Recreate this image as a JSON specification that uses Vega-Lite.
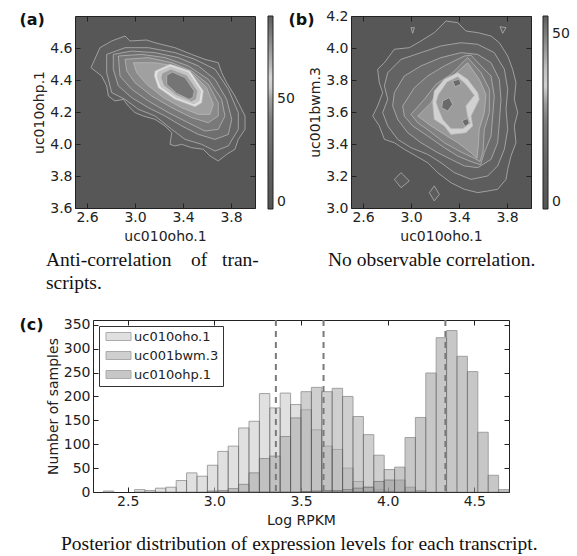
{
"$schema": "https://vega.github.io/schema/vega-lite/v6.json",
"padding": {"left": 18, "top": 8, "right": 2, "bottom": 2},
"background": "white",
"datasets": {
"pa": [
{"p":"a01","v":15,"x":2.633,"y":4.477},{"p":"a01","v":15,"x":2.708,"y":4.602},{"p":"a01","v":15,"x":2.806,"y":4.644},{"p":"a01","v":15,"x":2.917,"y":4.675},{"p":"a01","v":15,"x":2.958,"y":4.644},{"p":"a01","v":15,"x":3.097,"y":4.65},{"p":"a01","v":15,"x":3.167,"y":4.633},{"p":"a01","v":15,"x":3.333,"y":4.602},{"p":"a01","v":15,"x":3.472,"y":4.56},{"p":"a01","v":15,"x":3.583,"y":4.529},{"p":"a01","v":15,"x":3.694,"y":4.508},{"p":"a01","v":15,"x":3.722,"y":4.446},{"p":"a01","v":15,"x":3.764,"y":4.383},{"p":"a01","v":15,"x":3.833,"y":4.3},{"p":"a01","v":15,"x":3.861,"y":4.258},{"p":"a01","v":15,"x":3.917,"y":4.175},{"p":"a01","v":15,"x":3.917,"y":4.092},{"p":"a01","v":15,"x":3.861,"y":4.029},{"p":"a01","v":15,"x":3.833,"y":3.967},{"p":"a01","v":15,"x":3.764,"y":3.935},{"p":"a01","v":15,"x":3.694,"y":3.894},{"p":"a01","v":15,"x":3.625,"y":3.925},{"p":"a01","v":15,"x":3.569,"y":3.967},{"p":"a01","v":15,"x":3.472,"y":3.977},{"p":"a01","v":15,"x":3.389,"y":3.998},{"p":"a01","v":15,"x":3.333,"y":3.988},{"p":"a01","v":15,"x":3.292,"y":3.998},{"p":"a01","v":15,"x":3.306,"y":4.071},{"p":"a01","v":15,"x":3.25,"y":4.113},{"p":"a01","v":15,"x":3.167,"y":4.154},{"p":"a01","v":15,"x":3.069,"y":4.175},{"p":"a01","v":15,"x":3.0,"y":4.196},{"p":"a01","v":15,"x":2.944,"y":4.238},{"p":"a01","v":15,"x":2.903,"y":4.279},{"p":"a01","v":15,"x":2.833,"y":4.269},{"p":"a01","v":15,"x":2.778,"y":4.3},{"p":"a01","v":15,"x":2.764,"y":4.363},{"p":"a01","v":15,"x":2.722,"y":4.425},
{"p":"a02","v":22,"x":2.764,"y":4.56},{"p":"a02","v":22,"x":2.917,"y":4.602},{"p":"a02","v":22,"x":3.111,"y":4.602},{"p":"a02","v":22,"x":3.333,"y":4.571},{"p":"a02","v":22,"x":3.5,"y":4.529},{"p":"a02","v":22,"x":3.667,"y":4.467},{"p":"a02","v":22,"x":3.778,"y":4.342},{"p":"a02","v":22,"x":3.861,"y":4.196},{"p":"a02","v":22,"x":3.861,"y":4.092},{"p":"a02","v":22,"x":3.778,"y":3.988},{"p":"a02","v":22,"x":3.667,"y":3.956},{"p":"a02","v":22,"x":3.556,"y":3.998},{"p":"a02","v":22,"x":3.417,"y":4.029},{"p":"a02","v":22,"x":3.306,"y":4.092},{"p":"a02","v":22,"x":3.167,"y":4.175},{"p":"a02","v":22,"x":3.028,"y":4.217},{"p":"a02","v":22,"x":2.917,"y":4.279},{"p":"a02","v":22,"x":2.806,"y":4.321},{"p":"a02","v":22,"x":2.764,"y":4.446},
{"p":"a03","v":30,"x":2.819,"y":4.56},{"p":"a03","v":30,"x":2.972,"y":4.581},{"p":"a03","v":30,"x":3.167,"y":4.571},{"p":"a03","v":30,"x":3.361,"y":4.54},{"p":"a03","v":30,"x":3.528,"y":4.488},{"p":"a03","v":30,"x":3.667,"y":4.404},{"p":"a03","v":30,"x":3.764,"y":4.279},{"p":"a03","v":30,"x":3.806,"y":4.154},{"p":"a03","v":30,"x":3.778,"y":4.06},{"p":"a03","v":30,"x":3.667,"y":4.029},{"p":"a03","v":30,"x":3.528,"y":4.06},{"p":"a03","v":30,"x":3.389,"y":4.113},{"p":"a03","v":30,"x":3.25,"y":4.175},{"p":"a03","v":30,"x":3.111,"y":4.227},{"p":"a03","v":30,"x":2.972,"y":4.29},{"p":"a03","v":30,"x":2.861,"y":4.363},{"p":"a03","v":30,"x":2.819,"y":4.467},
{"p":"a04","v":38,"x":2.861,"y":4.55},{"p":"a04","v":38,"x":3.056,"y":4.56},{"p":"a04","v":38,"x":3.25,"y":4.54},{"p":"a04","v":38,"x":3.444,"y":4.488},{"p":"a04","v":38,"x":3.611,"y":4.404},{"p":"a04","v":38,"x":3.722,"y":4.279},{"p":"a04","v":38,"x":3.75,"y":4.175},{"p":"a04","v":38,"x":3.694,"y":4.092},{"p":"a04","v":38,"x":3.583,"y":4.081},{"p":"a04","v":38,"x":3.444,"y":4.133},{"p":"a04","v":38,"x":3.278,"y":4.196},{"p":"a04","v":38,"x":3.111,"y":4.269},{"p":"a04","v":38,"x":2.972,"y":4.342},{"p":"a04","v":38,"x":2.875,"y":4.425},
{"p":"a05","v":44,"x":2.917,"y":4.529},{"p":"a05","v":44,"x":3.111,"y":4.54},{"p":"a05","v":44,"x":3.306,"y":4.508},{"p":"a05","v":44,"x":3.472,"y":4.456},{"p":"a05","v":44,"x":3.611,"y":4.373},{"p":"a05","v":44,"x":3.694,"y":4.258},{"p":"a05","v":44,"x":3.694,"y":4.175},{"p":"a05","v":44,"x":3.611,"y":4.133},{"p":"a05","v":44,"x":3.472,"y":4.165},{"p":"a05","v":44,"x":3.306,"y":4.227},{"p":"a05","v":44,"x":3.139,"y":4.3},{"p":"a05","v":44,"x":3.0,"y":4.383},{"p":"a05","v":44,"x":2.931,"y":4.456},
{"p":"a06","v":50,"x":2.986,"y":4.508},{"p":"a06","v":50,"x":3.167,"y":4.508},{"p":"a06","v":50,"x":3.333,"y":4.488},{"p":"a06","v":50,"x":3.486,"y":4.435},{"p":"a06","v":50,"x":3.597,"y":4.352},{"p":"a06","v":50,"x":3.653,"y":4.248},{"p":"a06","v":50,"x":3.625,"y":4.185},{"p":"a06","v":50,"x":3.528,"y":4.185},{"p":"a06","v":50,"x":3.389,"y":4.227},{"p":"a06","v":50,"x":3.236,"y":4.29},{"p":"a06","v":50,"x":3.097,"y":4.373},{"p":"a06","v":50,"x":3.014,"y":4.446},
{"p":"a07","v":58,"x":3.167,"y":4.456},{"p":"a07","v":58,"x":3.292,"y":4.498},{"p":"a07","v":58,"x":3.458,"y":4.456},{"p":"a07","v":58,"x":3.569,"y":4.331},{"p":"a07","v":58,"x":3.556,"y":4.258},{"p":"a07","v":58,"x":3.5,"y":4.233},{"p":"a07","v":58,"x":3.333,"y":4.279},{"p":"a07","v":58,"x":3.194,"y":4.352},{"p":"a07","v":58,"x":3.161,"y":4.425},
{"p":"a08","v":63,"x":3.194,"y":4.45},{"p":"a08","v":63,"x":3.292,"y":4.483},{"p":"a08","v":63,"x":3.444,"y":4.446},{"p":"a08","v":63,"x":3.547,"y":4.331},{"p":"a08","v":63,"x":3.533,"y":4.269},{"p":"a08","v":63,"x":3.492,"y":4.25},{"p":"a08","v":63,"x":3.342,"y":4.292},{"p":"a08","v":63,"x":3.217,"y":4.358},{"p":"a08","v":63,"x":3.186,"y":4.421},
{"p":"a09","v":72,"x":3.228,"y":4.442},{"p":"a09","v":72,"x":3.3,"y":4.467},{"p":"a09","v":72,"x":3.431,"y":4.429},{"p":"a09","v":72,"x":3.522,"y":4.331},{"p":"a09","v":72,"x":3.508,"y":4.279},{"p":"a09","v":72,"x":3.472,"y":4.265},{"p":"a09","v":72,"x":3.347,"y":4.304},{"p":"a09","v":72,"x":3.239,"y":4.367},{"p":"a09","v":72,"x":3.217,"y":4.415},
{"p":"a10","v":82,"x":3.264,"y":4.429},{"p":"a10","v":82,"x":3.311,"y":4.45},{"p":"a10","v":82,"x":3.417,"y":4.415},{"p":"a10","v":82,"x":3.494,"y":4.331},{"p":"a10","v":82,"x":3.483,"y":4.29},{"p":"a10","v":82,"x":3.45,"y":4.279},{"p":"a10","v":82,"x":3.347,"y":4.317},{"p":"a10","v":82,"x":3.264,"y":4.373}
],
"pb": [
{"p":"b01","v":8,"x":2.778,"y":3.908},{"p":"b01","v":8,"x":2.861,"y":3.992},{"p":"b01","v":8,"x":2.986,"y":4.002},{"p":"b01","v":8,"x":3.083,"y":4.044},{"p":"b01","v":8,"x":3.194,"y":4.096},{"p":"b01","v":8,"x":3.292,"y":4.169},{"p":"b01","v":8,"x":3.389,"y":4.158},{"p":"b01","v":8,"x":3.458,"y":4.106},{"p":"b01","v":8,"x":3.556,"y":4.096},{"p":"b01","v":8,"x":3.667,"y":4.075},{"p":"b01","v":8,"x":3.736,"y":4.033},{"p":"b01","v":8,"x":3.806,"y":3.95},{"p":"b01","v":8,"x":3.847,"y":3.867},{"p":"b01","v":8,"x":3.875,"y":3.783},{"p":"b01","v":8,"x":3.861,"y":3.679},{"p":"b01","v":8,"x":3.889,"y":3.596},{"p":"b01","v":8,"x":3.861,"y":3.513},{"p":"b01","v":8,"x":3.875,"y":3.408},{"p":"b01","v":8,"x":3.833,"y":3.325},{"p":"b01","v":8,"x":3.806,"y":3.242},{"p":"b01","v":8,"x":3.792,"y":3.179},{"p":"b01","v":8,"x":3.722,"y":3.117},{"p":"b01","v":8,"x":3.639,"y":3.106},{"p":"b01","v":8,"x":3.556,"y":3.096},{"p":"b01","v":8,"x":3.444,"y":3.117},{"p":"b01","v":8,"x":3.333,"y":3.158},{"p":"b01","v":8,"x":3.222,"y":3.221},{"p":"b01","v":8,"x":3.139,"y":3.283},{"p":"b01","v":8,"x":3.042,"y":3.325},{"p":"b01","v":8,"x":2.944,"y":3.367},{"p":"b01","v":8,"x":2.861,"y":3.408},{"p":"b01","v":8,"x":2.778,"y":3.429},{"p":"b01","v":8,"x":2.736,"y":3.513},{"p":"b01","v":8,"x":2.681,"y":3.575},{"p":"b01","v":8,"x":2.722,"y":3.638},{"p":"b01","v":8,"x":2.764,"y":3.721},{"p":"b01","v":8,"x":2.736,"y":3.783},{"p":"b01","v":8,"x":2.722,"y":3.867},
{"p":"b02","v":8,"x":2.861,"y":3.179},{"p":"b02","v":8,"x":2.917,"y":3.221},{"p":"b02","v":8,"x":2.986,"y":3.169},{"p":"b02","v":8,"x":2.917,"y":3.127},
{"p":"b03","v":8,"x":3.153,"y":3.096},{"p":"b03","v":8,"x":3.194,"y":3.138},{"p":"b03","v":8,"x":3.236,"y":3.085},{"p":"b03","v":8,"x":3.194,"y":3.044},
{"p":"b04","v":8,"x":3.0,"y":4.127},{"p":"b04","v":8,"x":3.028,"y":4.127},{"p":"b04","v":8,"x":3.014,"y":4.092},
{"p":"b05","v":8,"x":3.742,"y":4.133},{"p":"b05","v":8,"x":3.792,"y":4.127},{"p":"b05","v":8,"x":3.764,"y":4.092},
{"p":"b06","v":13,"x":2.806,"y":3.846},{"p":"b06","v":13,"x":2.917,"y":3.929},{"p":"b06","v":13,"x":3.083,"y":3.971},{"p":"b06","v":13,"x":3.25,"y":4.013},{"p":"b06","v":13,"x":3.417,"y":4.033},{"p":"b06","v":13,"x":3.556,"y":4.023},{"p":"b06","v":13,"x":3.694,"y":3.971},{"p":"b06","v":13,"x":3.778,"y":3.867},{"p":"b06","v":13,"x":3.806,"y":3.742},{"p":"b06","v":13,"x":3.792,"y":3.617},{"p":"b06","v":13,"x":3.806,"y":3.492},{"p":"b06","v":13,"x":3.778,"y":3.367},{"p":"b06","v":13,"x":3.722,"y":3.263},{"p":"b06","v":13,"x":3.639,"y":3.2},{"p":"b06","v":13,"x":3.5,"y":3.179},{"p":"b06","v":13,"x":3.361,"y":3.221},{"p":"b06","v":13,"x":3.25,"y":3.283},{"p":"b06","v":13,"x":3.139,"y":3.335},{"p":"b06","v":13,"x":3.0,"y":3.377},{"p":"b06","v":13,"x":2.889,"y":3.429},{"p":"b06","v":13,"x":2.806,"y":3.513},{"p":"b06","v":13,"x":2.764,"y":3.596},{"p":"b06","v":13,"x":2.806,"y":3.679},{"p":"b06","v":13,"x":2.778,"y":3.763},
{"p":"b07","v":18,"x":2.861,"y":3.721},{"p":"b07","v":18,"x":2.944,"y":3.825},{"p":"b07","v":18,"x":3.083,"y":3.888},{"p":"b07","v":18,"x":3.25,"y":3.94},{"p":"b07","v":18,"x":3.417,"y":3.971},{"p":"b07","v":18,"x":3.556,"y":3.96},{"p":"b07","v":18,"x":3.667,"y":3.908},{"p":"b07","v":18,"x":3.736,"y":3.804},{"p":"b07","v":18,"x":3.75,"y":3.679},{"p":"b07","v":18,"x":3.736,"y":3.533},{"p":"b07","v":18,"x":3.722,"y":3.408},{"p":"b07","v":18,"x":3.667,"y":3.304},{"p":"b07","v":18,"x":3.556,"y":3.252},{"p":"b07","v":18,"x":3.444,"y":3.263},{"p":"b07","v":18,"x":3.333,"y":3.304},{"p":"b07","v":18,"x":3.222,"y":3.346},{"p":"b07","v":18,"x":3.083,"y":3.408},{"p":"b07","v":18,"x":2.972,"y":3.471},{"p":"b07","v":18,"x":2.889,"y":3.554},{"p":"b07","v":18,"x":2.847,"y":3.638},
{"p":"b08","v":22,"x":2.931,"y":3.638},{"p":"b08","v":22,"x":3.028,"y":3.752},{"p":"b08","v":22,"x":3.139,"y":3.825},{"p":"b08","v":22,"x":3.278,"y":3.888},{"p":"b08","v":22,"x":3.444,"y":3.95},{"p":"b08","v":22,"x":3.5,"y":3.955},{"p":"b08","v":22,"x":3.569,"y":3.9},{"p":"b08","v":22,"x":3.667,"y":3.825},{"p":"b08","v":22,"x":3.694,"y":3.7},{"p":"b08","v":22,"x":3.681,"y":3.575},{"p":"b08","v":22,"x":3.667,"y":3.45},{"p":"b08","v":22,"x":3.611,"y":3.346},{"p":"b08","v":22,"x":3.58,"y":3.27},{"p":"b08","v":22,"x":3.5,"y":3.29},{"p":"b08","v":22,"x":3.389,"y":3.325},{"p":"b08","v":22,"x":3.278,"y":3.377},{"p":"b08","v":22,"x":3.139,"y":3.45},{"p":"b08","v":22,"x":3.014,"y":3.513},{"p":"b08","v":22,"x":2.944,"y":3.575},
{"p":"b09","v":26,"x":3.0,"y":3.585},{"p":"b09","v":26,"x":3.111,"y":3.679},{"p":"b09","v":26,"x":3.208,"y":3.773},{"p":"b09","v":26,"x":3.333,"y":3.835},{"p":"b09","v":26,"x":3.472,"y":3.94},{"p":"b09","v":26,"x":3.583,"y":3.846},{"p":"b09","v":26,"x":3.653,"y":3.742},{"p":"b09","v":26,"x":3.653,"y":3.596},{"p":"b09","v":26,"x":3.611,"y":3.492},{"p":"b09","v":26,"x":3.6,"y":3.35},{"p":"b09","v":26,"x":3.575,"y":3.29},{"p":"b09","v":26,"x":3.53,"y":3.31},{"p":"b09","v":26,"x":3.417,"y":3.35},{"p":"b09","v":26,"x":3.278,"y":3.408},{"p":"b09","v":26,"x":3.153,"y":3.481},{"p":"b09","v":26,"x":3.056,"y":3.533},
{"p":"b10","v":30,"x":3.056,"y":3.575},{"p":"b10","v":30,"x":3.167,"y":3.658},{"p":"b10","v":30,"x":3.236,"y":3.752},{"p":"b10","v":30,"x":3.333,"y":3.815},{"p":"b10","v":30,"x":3.472,"y":3.908},{"p":"b10","v":30,"x":3.569,"y":3.804},{"p":"b10","v":30,"x":3.625,"y":3.71},{"p":"b10","v":30,"x":3.611,"y":3.596},{"p":"b10","v":30,"x":3.569,"y":3.492},{"p":"b10","v":30,"x":3.56,"y":3.38},{"p":"b10","v":30,"x":3.55,"y":3.31},{"p":"b10","v":30,"x":3.5,"y":3.345},{"p":"b10","v":30,"x":3.389,"y":3.408},{"p":"b10","v":30,"x":3.278,"y":3.46},{"p":"b10","v":30,"x":3.167,"y":3.513},
{"p":"b11","v":35,"x":3.194,"y":3.731},{"p":"b11","v":35,"x":3.278,"y":3.804},{"p":"b11","v":35,"x":3.389,"y":3.846},{"p":"b11","v":35,"x":3.472,"y":3.804},{"p":"b11","v":35,"x":3.556,"y":3.721},{"p":"b11","v":35,"x":3.569,"y":3.679},{"p":"b11","v":35,"x":3.5,"y":3.575},{"p":"b11","v":35,"x":3.514,"y":3.513},{"p":"b11","v":35,"x":3.458,"y":3.471},{"p":"b11","v":35,"x":3.333,"y":3.46},{"p":"b11","v":35,"x":3.278,"y":3.513},{"p":"b11","v":35,"x":3.194,"y":3.554},{"p":"b11","v":35,"x":3.181,"y":3.658},
{"p":"b12","v":45,"x":3.228,"y":3.71},{"p":"b12","v":45,"x":3.3,"y":3.788},{"p":"b12","v":45,"x":3.389,"y":3.821},{"p":"b12","v":45,"x":3.458,"y":3.773},{"p":"b12","v":45,"x":3.528,"y":3.704},{"p":"b12","v":45,"x":3.458,"y":3.638},{"p":"b12","v":45,"x":3.472,"y":3.575},{"p":"b12","v":45,"x":3.494,"y":3.529},{"p":"b12","v":45,"x":3.431,"y":3.496},{"p":"b12","v":45,"x":3.333,"y":3.496},{"p":"b12","v":45,"x":3.267,"y":3.55},{"p":"b12","v":45,"x":3.228,"y":3.617},{"p":"b12","v":45,"x":3.208,"y":3.663},
{"p":"b13","v":53,"x":3.264,"y":3.669},{"p":"b13","v":53,"x":3.319,"y":3.69},{"p":"b13","v":53,"x":3.347,"y":3.648},{"p":"b13","v":53,"x":3.306,"y":3.606},{"p":"b13","v":53,"x":3.256,"y":3.627},
{"p":"b14","v":53,"x":3.425,"y":3.545},{"p":"b14","v":53,"x":3.47,"y":3.56},{"p":"b14","v":53,"x":3.485,"y":3.53},{"p":"b14","v":53,"x":3.45,"y":3.51},
{"p":"b15","v":53,"x":3.347,"y":3.794},{"p":"b15","v":53,"x":3.403,"y":3.804},{"p":"b15","v":53,"x":3.417,"y":3.773},{"p":"b15","v":53,"x":3.367,"y":3.758}
],
"h": [
{"s":"uc010oho.1","x0":2.36,"x1":2.42,"n":2},{"s":"uc010oho.1","x0":2.54,"x1":2.60,"n":5},{"s":"uc010oho.1","x0":2.60,"x1":2.66,"n":3},{"s":"uc010oho.1","x0":2.66,"x1":2.72,"n":8},{"s":"uc010oho.1","x0":2.72,"x1":2.78,"n":10},{"s":"uc010oho.1","x0":2.78,"x1":2.84,"n":24},{"s":"uc010oho.1","x0":2.84,"x1":2.90,"n":40},{"s":"uc010oho.1","x0":2.90,"x1":2.96,"n":33},{"s":"uc010oho.1","x0":2.96,"x1":3.02,"n":56},{"s":"uc010oho.1","x0":3.02,"x1":3.08,"n":85},{"s":"uc010oho.1","x0":3.08,"x1":3.14,"n":96},{"s":"uc010oho.1","x0":3.14,"x1":3.20,"n":134},{"s":"uc010oho.1","x0":3.20,"x1":3.26,"n":148},{"s":"uc010oho.1","x0":3.26,"x1":3.32,"n":206},{"s":"uc010oho.1","x0":3.32,"x1":3.38,"n":176},{"s":"uc010oho.1","x0":3.38,"x1":3.44,"n":207},{"s":"uc010oho.1","x0":3.44,"x1":3.50,"n":183},{"s":"uc010oho.1","x0":3.50,"x1":3.56,"n":172},{"s":"uc010oho.1","x0":3.56,"x1":3.62,"n":130},{"s":"uc010oho.1","x0":3.62,"x1":3.68,"n":96},{"s":"uc010oho.1","x0":3.68,"x1":3.74,"n":89},{"s":"uc010oho.1","x0":3.74,"x1":3.80,"n":50},{"s":"uc010oho.1","x0":3.80,"x1":3.86,"n":22},{"s":"uc010oho.1","x0":3.86,"x1":3.92,"n":10},{"s":"uc010oho.1","x0":3.92,"x1":3.98,"n":5},{"s":"uc010oho.1","x0":3.98,"x1":4.04,"n":2},
{"s":"uc001bwm.3","x0":2.96,"x1":3.02,"n":2},{"s":"uc001bwm.3","x0":3.02,"x1":3.08,"n":3},{"s":"uc001bwm.3","x0":3.08,"x1":3.14,"n":7},{"s":"uc001bwm.3","x0":3.14,"x1":3.20,"n":16},{"s":"uc001bwm.3","x0":3.20,"x1":3.26,"n":40},{"s":"uc001bwm.3","x0":3.26,"x1":3.32,"n":70},{"s":"uc001bwm.3","x0":3.32,"x1":3.38,"n":75},{"s":"uc001bwm.3","x0":3.38,"x1":3.44,"n":116},{"s":"uc001bwm.3","x0":3.44,"x1":3.50,"n":155},{"s":"uc001bwm.3","x0":3.50,"x1":3.56,"n":210},{"s":"uc001bwm.3","x0":3.56,"x1":3.62,"n":219},{"s":"uc001bwm.3","x0":3.62,"x1":3.68,"n":210},{"s":"uc001bwm.3","x0":3.68,"x1":3.74,"n":217},{"s":"uc001bwm.3","x0":3.74,"x1":3.80,"n":200},{"s":"uc001bwm.3","x0":3.80,"x1":3.86,"n":158},{"s":"uc001bwm.3","x0":3.86,"x1":3.92,"n":120},{"s":"uc001bwm.3","x0":3.92,"x1":3.98,"n":77},{"s":"uc001bwm.3","x0":3.98,"x1":4.04,"n":47},{"s":"uc001bwm.3","x0":4.04,"x1":4.10,"n":25},{"s":"uc001bwm.3","x0":4.10,"x1":4.16,"n":10},{"s":"uc001bwm.3","x0":4.16,"x1":4.22,"n":3},
{"s":"uc010ohp.1","x0":3.50,"x1":3.56,"n":1},{"s":"uc010ohp.1","x0":3.56,"x1":3.62,"n":2},{"s":"uc010ohp.1","x0":3.62,"x1":3.68,"n":3},{"s":"uc010ohp.1","x0":3.68,"x1":3.74,"n":3},{"s":"uc010ohp.1","x0":3.74,"x1":3.80,"n":5},{"s":"uc010ohp.1","x0":3.80,"x1":3.86,"n":8},{"s":"uc010ohp.1","x0":3.86,"x1":3.92,"n":10},{"s":"uc010ohp.1","x0":3.92,"x1":3.98,"n":22},{"s":"uc010ohp.1","x0":3.98,"x1":4.04,"n":25},{"s":"uc010ohp.1","x0":4.04,"x1":4.10,"n":52},{"s":"uc010ohp.1","x0":4.10,"x1":4.16,"n":114},{"s":"uc010ohp.1","x0":4.16,"x1":4.22,"n":156},{"s":"uc010ohp.1","x0":4.22,"x1":4.28,"n":249},{"s":"uc010ohp.1","x0":4.28,"x1":4.34,"n":323},{"s":"uc010ohp.1","x0":4.34,"x1":4.40,"n":338},{"s":"uc010ohp.1","x0":4.40,"x1":4.46,"n":284},{"s":"uc010ohp.1","x0":4.46,"x1":4.52,"n":252},{"s":"uc010ohp.1","x0":4.52,"x1":4.58,"n":125},{"s":"uc010ohp.1","x0":4.58,"x1":4.64,"n":35},{"s":"uc010ohp.1","x0":4.64,"x1":4.70,"n":5}
],
"m": [{"m":3.355},{"m":3.63},{"m":4.333}],
"blank": [{"t":""}]
},
"resolve": {"scale": {"fill": "independent", "color": "independent"}, "legend": {"fill": "independent", "color": "independent"}},
"bounds": "flush",
"spacing": 304,
"vconcat": [
{
"bounds": "flush",
"spacing": 96,
"resolve": {"scale": {"fill": "independent"}, "legend": {"fill": "independent"}},
"hconcat": [
{
"width": 180, "height": 192,
"title": {"text": ["Anti-correlation\u00a0\u00a0\u00a0\u00a0of\u00a0\u00a0\u00a0tran-", "scripts."], "orient": "bottom", "anchor": "start", "frame": "group", "dx": -29, "offset": 23, "baseline": "alphabetic", "font": "Liberation Serif", "fontSize": 19.5, "fontWeight": "normal", "lineHeight": 23, "color": "#111"},
"view": {"fill": "#575757", "stroke": "#222"},
"data": {"name": "pa"},
"layer": [
{"mark": {"type": "line", "interpolate": "linear-closed", "stroke": "#bdbdbd", "strokeWidth": 0.7},
"encoding": {
"x": {"field": "x", "type": "quantitative", "scale": {"domain": [2.5, 4.0], "nice": false, "zero": false}, "axis": {"orient": "bottom", "values": [2.6, 3.0, 3.4, 3.8], "format": ".1f", "title": "uc010oho.1"}},
"y": {"field": "y", "type": "quantitative", "scale": {"domain": [3.6, 4.8], "nice": false, "zero": false}, "axis": {"orient": "left", "values": [3.6, 3.8, 4.0, 4.2, 4.4, 4.6], "format": ".1f", "title": "uc010ohp.1"}},
"detail": {"field": "p"},
"order": {"value": null},
"fill": {"field": "v", "type": "quantitative", "scale": {"domain": [0, 20, 40, 50, 58, 66, 76, 88], "range": ["#555555", "#626262", "#7c7c7c", "#a0a0a0", "#e2e2e2", "#b4b4b4", "#8c8c8c", "#5e5e5e"]},
"legend": {"orient": "right", "offset": 12, "padding": 0, "title": null, "values": [0, 50], "direction": "vertical", "gradientLength": 193, "gradientThickness": 5, "gradientStrokeColor": "#222", "gradientStrokeWidth": 1, "labelFontSize": 14, "labelOffset": 4, "labelOverlap": false}}
}},
{"mark": {"type": "point", "opacity": 0},
"encoding": {
"x": {"field": "x", "type": "quantitative", "axis": {"orient": "top", "values": [2.6, 3.0, 3.4, 3.8], "labels": false, "title": "(a)", "titleX": -56, "titleY": 8, "titleAlign": "left", "titleBaseline": "alphabetic", "titleAngle": 0, "titleFont": "DejaVu Sans", "titleFontSize": 16, "titleFontWeight": "bold", "titleColor": "#111"}},
"y": {"field": "y", "type": "quantitative", "axis": {"orient": "right", "values": [3.6, 3.8, 4.0, 4.2, 4.4, 4.6], "labels": false, "title": null}}
}}
],
"resolve": {"axis": {"x": "independent", "y": "independent"}}
},
{
"width": 180, "height": 192,
"title": {"text": "No observable correlation.", "orient": "bottom", "anchor": "start", "frame": "group", "dx": -23, "offset": 23, "baseline": "alphabetic", "font": "Liberation Serif", "fontSize": 19.5, "fontWeight": "normal", "color": "#111"},
"view": {"fill": "#575757", "stroke": "#222"},
"data": {"name": "pb"},
"layer": [
{"mark": {"type": "line", "interpolate": "linear-closed", "stroke": "#bdbdbd", "strokeWidth": 0.7},
"encoding": {
"x": {"field": "x", "type": "quantitative", "scale": {"domain": [2.5, 4.0], "nice": false, "zero": false}, "axis": {"orient": "bottom", "values": [2.6, 3.0, 3.4, 3.8], "format": ".1f", "title": "uc010oho.1"}},
"y": {"field": "y", "type": "quantitative", "scale": {"domain": [3.0, 4.2], "nice": false, "zero": false}, "axis": {"orient": "left", "values": [3.0, 3.2, 3.4, 3.6, 3.8, 4.0, 4.2], "format": ".1f", "title": "uc001bwm.3"}},
"detail": {"field": "p"},
"order": {"value": null},
"fill": {"field": "v", "type": "quantitative", "scale": {"domain": [0, 12.5, 25, 31.25, 36.25, 41.25, 47.5, 55], "range": ["#555555", "#626262", "#7c7c7c", "#a0a0a0", "#e2e2e2", "#b4b4b4", "#8c8c8c", "#5e5e5e"]},
"legend": {"orient": "right", "offset": 11, "padding": 0, "title": null, "values": [0, 50], "direction": "vertical", "gradientLength": 193, "gradientThickness": 5, "gradientStrokeColor": "#222", "gradientStrokeWidth": 1, "labelFontSize": 14, "labelOffset": 4, "labelOverlap": false}}
}},
{"mark": {"type": "point", "opacity": 0},
"encoding": {
"x": {"field": "x", "type": "quantitative", "axis": {"orient": "top", "values": [2.6, 3.0, 3.4, 3.8], "labels": false, "title": "(b)", "titleX": -63, "titleY": 8, "titleAlign": "left", "titleBaseline": "alphabetic", "titleAngle": 0, "titleFont": "DejaVu Sans", "titleFontSize": 16, "titleFontWeight": "bold", "titleColor": "#111"}},
"y": {"field": "y", "type": "quantitative", "axis": {"orient": "right", "values": [3.0, 3.2, 3.4, 3.6, 3.8, 4.0, 4.2], "labels": false, "title": null}}
}}
],
"resolve": {"axis": {"x": "independent", "y": "independent"}}
}
]
},
{
"bounds": "flush",
"spacing": 0,
"resolve": {"scale": {"color": "independent"}, "legend": {"color": "independent"}},
"hconcat": [
{
"width": 18, "height": 10,
"view": {"stroke": null, "fill": null},
"data": {"name": "blank"},
"mark": {"type": "text"},
"encoding": {"text": {"field": "t"}}
},
{
"width": 416, "height": 172,
"title": {"text": "Posterior distribution of expression levels for each transcript.", "orient": "bottom", "anchor": "start", "frame": "group", "dx": -32, "offset": 23, "baseline": "alphabetic", "font": "Liberation Serif", "fontSize": 19.5, "fontWeight": "normal", "color": "#111"},
"view": {"fill": "white", "stroke": "#222"},
"layer": [
{"data": {"name": "h"},
"mark": {"type": "rect", "stroke": "#555555", "strokeWidth": 1, "opacity": 0.55},
"encoding": {
"x": {"field": "x0", "type": "quantitative", "scale": {"domain": [2.3, 4.7], "nice": false, "zero": false}, "axis": {"orient": "bottom", "values": [2.5, 3.0, 3.5, 4.0, 4.5], "format": ".1f", "title": "Log RPKM"}},
"x2": {"field": "x1"},
"y": {"field": "n", "type": "quantitative", "scale": {"domain": [0, 360], "nice": false, "zero": true}, "axis": {"orient": "left", "values": [0, 50, 100, 150, 200, 250, 300, 350], "format": "d", "title": "Number of samples"}},
"y2": {"datum": 0},
"color": {"field": "s", "type": "nominal", "scale": {"domain": ["uc010oho.1", "uc001bwm.3", "uc010ohp.1"], "range": ["#c8c8c8", "#a9a9a9", "#9a9a9a"]},
"legend": {"orient": "top-left", "offset": 6, "title": null, "padding": 4, "strokeColor": "#333", "fillColor": "#ffffff", "symbolType": "M-2.5,-0.8H2.5V0.8H-2.5Z", "symbolSize": 100, "symbolOffset": 9, "symbolStrokeColor": "#666", "symbolStrokeWidth": 1, "labelFontSize": 13, "labelOffset": 9, "rowPadding": 5, "labelFont": "DejaVu Sans", "labelColor": "#222"}}
}},
{"data": {"name": "m"},
"mark": {"type": "rule", "stroke": "#7a7a7a", "strokeWidth": 2, "strokeDash": [6, 5]},
"encoding": {"x": {"field": "m", "type": "quantitative", "axis": null}}},
{"data": {"name": "h"},
"mark": {"type": "point", "opacity": 0},
"encoding": {
"x": {"field": "x0", "type": "quantitative", "axis": {"orient": "top", "values": [2.5, 3.0, 3.5, 4.0, 4.5], "labels": false, "title": "(c)", "titleX": -74, "titleY": 9, "titleAlign": "left", "titleBaseline": "alphabetic", "titleAngle": 0, "titleFont": "DejaVu Sans", "titleFontSize": 16, "titleFontWeight": "bold", "titleColor": "#111"}},
"y": {"field": "n", "type": "quantitative", "axis": {"orient": "right", "values": [0, 50, 100, 150, 200, 250, 300, 350], "labels": false, "title": null}}
}}
],
"resolve": {"axis": {"x": "independent", "y": "independent"}}
}
]
}
],
"config": {
"font": "DejaVu Sans",
"view": {"stroke": "#222", "strokeWidth": 1},
"axis": {"labelFont": "DejaVu Sans", "labelFontSize": 14, "labelColor": "#222", "titleFont": "DejaVu Sans", "titleFontSize": 14, "titleFontWeight": "normal", "titleColor": "#222", "tickColor": "#222", "tickSize": -5, "tickWidth": 1, "domain": false, "grid": false, "labelFlush": false, "labelOverlap": false},
"axisX": {"labelPadding": 7, "titlePadding": 5},
"axisY": {"labelPadding": 8, "titlePadding": 3},
"legend": {"labelFont": "DejaVu Sans", "labelColor": "#222"}
}
}
